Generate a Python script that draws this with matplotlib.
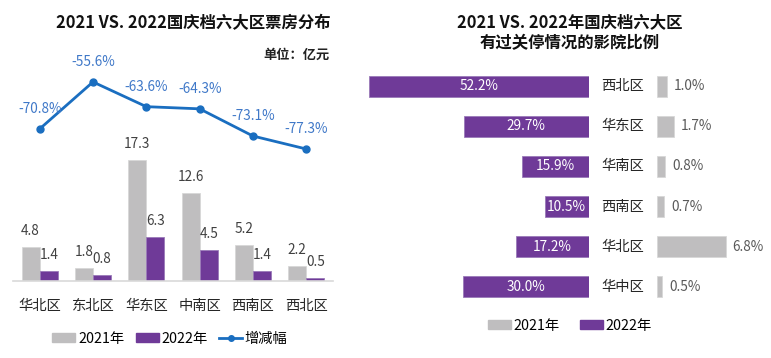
import numpy as np
import matplotlib.pyplot as plt
from matplotlib.lines import Line2D
from matplotlib.patches import Patch
import matplotlib.transforms as mtransforms

plt.rcParams['font.family'] = ['Noto Sans CJK SC', 'DejaVu Sans']

# Left chart data: box office (亿元)
regions = ['华北区', '东北区', '华东区', '中南区', '西南区', '西北区']
box_2021 = [4.8, 1.8, 17.3, 12.6, 5.2, 2.2]
box_2022 = [1.4, 0.8, 6.3, 4.5, 1.4, 0.5]
change = [-70.8, -55.6, -63.6, -64.3, -73.1, -77.3]

# Right chart data: share of closed cinemas (%)
regions_r = ['西北区', '华东区', '华南区', '西南区', '华北区', '华中区']
closed_2022 = [52.2, 29.7, 15.9, 10.5, 17.2, 30.0]
closed_2021 = [1.0, 1.7, 0.8, 0.7, 6.8, 0.5]

GRAY = '#BFBEBF'
PURPLE = '#6F3A98'
BLUE = '#1A6EC0'
LBLUE = '#3F78C8'

W, H = 771, 358
fig = plt.figure(figsize=(W / 100, H / 100), dpi=100)


def px_axes(x0, y0, x1, y1):
    # pixel box (top-left origin) -> figure axes
    return fig.add_axes([x0 / W, 1 - y1 / H, (x1 - x0) / W, (y1 - y0) / H])


# ---------------- left chart ----------------
ax = px_axes(13, 60, 333, 281)
x = np.arange(len(regions))
bw = 0.34
ax.bar(x - bw / 2, box_2021, bw, color=GRAY, edgecolor='#D8D8D8', linewidth=0.6)
ax.bar(x + bw / 2, box_2022, bw, color=PURPLE, edgecolor='#9A7AB8', linewidth=0.6)
ax.set_xlim(-0.5, 5.5)
ax.set_ylim(0, 221 / 7.0)
for xi, v in zip(x, box_2021):
    ax.annotate(f'{v:.1f}', (xi - bw / 2, v), xytext=(0, 16), textcoords='offset pixels',
                ha='center', va='center', fontsize=9.8, color='#404040')
for xi, v in zip(x, box_2022):
    ax.annotate(f'{v:.1f}', (xi + bw / 2, v), xytext=(0, 16), textcoords='offset pixels',
                ha='center', va='center', fontsize=9.8, color='#404040')
for s in ['top', 'right', 'left']:
    ax.spines[s].set_visible(False)
ax.spines['bottom'].set_color('#D9D9D9')
ax.spines['bottom'].set_linewidth(1.2)
ax.set_yticks([])
ax.set_xticks(x)
ax.set_xticklabels(regions, fontsize=10.3, color='#262626')
ax.tick_params(axis='x', length=0, pad=13)

ax2 = ax.twinx()
ax2.plot(x, change, color=BLUE, linewidth=2, marker='o', markersize=5)
ax2.set_ylim(-120.0, -48.5)
ax2.set_yticks([])
for s in ax2.spines.values():
    s.set_visible(False)
for xi, v in zip(x, change):
    ax2.annotate(f'{v:.1f}%', (xi, v), xytext=(0, 20), textcoords='offset pixels',
                 ha='center', va='center', fontsize=9.8, color=LBLUE)

fig.text(193 / W, 1 - 23 / H, '2021 VS. 2022国庆档六大区票房分布', ha='center', va='center',
         fontsize=11.8, fontweight='bold', color='#111111')
fig.text(330 / W, 1 - 55 / H, '单位：亿元', ha='right', va='center',
         fontsize=9.5, fontweight='bold', color='#222222')

handles = [Patch(color=GRAY, label='2021年'), Patch(color=PURPLE, label='2022年'),
           Line2D([0], [0], color=BLUE, lw=2, marker='o', markersize=4, label='增减幅')]
fig.legend(handles=handles, loc='center', bbox_to_anchor=(170 / W, 1 - 339 / H), ncol=3,
           frameon=False, fontsize=10.3, handlelength=1.6, handleheight=0.6,
           handletextpad=0.2, columnspacing=0.8)

# ---------------- right chart ----------------
y = np.arange(len(regions_r))
bh = 0.52
axp = px_axes(360, 66, 588.7, 307)
axp.barh(y, closed_2022, bh, color=PURPLE, edgecolor='#9A7AB8', linewidth=0.6)
axp.set_xlim(228.7 / 4.2, 0)
axp.set_ylim(5.5, -0.5)
axp.axis('off')
for yi, v in zip(y, closed_2022):
    axp.text(v / 2, yi, f'{v:.1f}%', ha='center', va='center', fontsize=9.8, color='white')

axg = px_axes(657, 66, 760, 307)
axg.barh(y, closed_2021, bh, color=GRAY, edgecolor='#D8D8D8', linewidth=0.6)
axg.set_xlim(0, 103 / 10.1)
axg.set_ylim(5.5, -0.5)
axg.axis('off')
for yi, v in zip(y, closed_2021):
    axg.annotate(f'{v:.1f}%', (v, yi), xytext=(7, 0), textcoords='offset pixels',
                 ha='left', va='center', fontsize=9.8, color='#595959')

tr = mtransforms.blended_transform_factory(fig.transFigure, axp.transData)
for yi, name in zip(y, regions_r):
    axp.text(622.7 / W, yi, name, transform=tr, ha='center', va='center',
             fontsize=10.3, color='#262626')

fig.text(570 / W, 1 - 22 / H, '2021 VS. 2022年国庆档六大区', ha='center', va='center',
         fontsize=11.8, fontweight='bold', color='#111111')
fig.text(570 / W, 1 - 43 / H, '有过关停情况的影院比例', ha='center', va='center',
         fontsize=11.8, fontweight='bold', color='#111111')

handles_r = [Patch(color=GRAY, label='2021年'), Patch(color=PURPLE, label='2022年')]
fig.legend(handles=handles_r, loc='center', bbox_to_anchor=(570 / W, 1 - 326 / H), ncol=2,
           frameon=False, fontsize=10.3, handlelength=1.6, handleheight=0.6,
           handletextpad=0.2, columnspacing=1.4)

fig.savefig('out.png', dpi=100)
